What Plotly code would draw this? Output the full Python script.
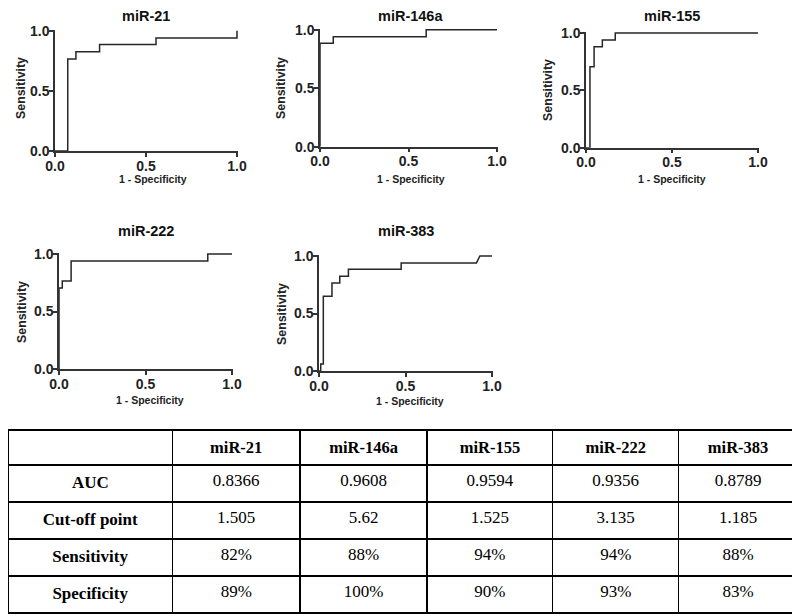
import plotly.graph_objects as go

# the page body has an 8px margin, so the figure starts at (8, 8) in the window
OFF = 8
W, H = 792, 608

# ---------------- data ----------------
markers = ["miR-21", "miR-146a", "miR-155", "miR-222", "miR-383"]

fpr_21 = [0, 0.07, 0.07, 0.115, 0.115, 0.245, 0.245, 0.555, 0.555, 1.0, 1.0]
tpr_21 = [0, 0, 0.765, 0.765, 0.825, 0.825, 0.885, 0.885, 0.94, 0.94, 1.0]

fpr_146a = [0, 0, 0.075, 0.075, 0.6, 0.6, 1.0]
tpr_146a = [0, 0.885, 0.885, 0.94, 0.94, 1.0, 1.0]

fpr_155 = [0, 0.023, 0.023, 0.047, 0.047, 0.095, 0.095, 0.17, 0.17, 1.0]
tpr_155 = [0, 0, 0.705, 0.705, 0.88, 0.88, 0.94, 0.94, 1.0, 1.0]

fpr_222 = [0, 0, 0.019, 0.019, 0.07, 0.07, 0.86, 0.86, 1.0]
tpr_222 = [0, 0.705, 0.705, 0.765, 0.765, 0.94, 0.94, 1.0, 1.0]

fpr_383 = [0, 0.01, 0.01, 0.025, 0.025, 0.075, 0.075, 0.12, 0.12, 0.17, 0.17, 0.475, 0.475, 0.91, 0.93, 1.0]
tpr_383 = [0, 0, 0.06, 0.06, 0.65, 0.65, 0.765, 0.765, 0.825, 0.825, 0.885, 0.885, 0.94, 0.94, 1.0, 1.0]

row_labels = ["AUC", "Cut-off point", "Sensitivity", "Specificity"]
auc = ["0.8366", "0.9608", "0.9594", "0.9356", "0.8789"]
cutoff = ["1.505", "5.62", "1.525", "3.135", "1.185"]
sensitivity = ["82%", "88%", "94%", "94%", "88%"]
specificity = ["89%", "100%", "90%", "93%", "83%"]

tick_vals = [0, 0.5, 1.0]
tick_text = ["0.0", "0.5", "1.0"]

# ---------------- layout geometry (window pixels) ----------------
# (x_left, x_right, y_top(value 1), y_bottom(value 0))
boxes = [
    (55, 237, 30.7, 151),
    (320, 497, 29.7, 146.7),
    (586, 758, 33, 147.7),
    (59, 232, 254, 369),
    (319, 492, 256, 371),
]
title_pos = [(146, 16.3), (410, 16.3), (672, 16.3), (146, 231), (406, 231)]
xtitle_pos = [(153, 179), (411, 179), (672, 179), (150, 400), (410, 401)]
ytitle_pos = [(21, 88), (281, 88), (548, 90), (22, 312), (282, 314)]

curves = [(fpr_21, tpr_21), (fpr_146a, tpr_146a), (fpr_155, tpr_155),
          (fpr_222, tpr_222), (fpr_383, tpr_383)]

fig = go.Figure()

def px_x(p):
    return min(max((p - OFF) / W, 0.0), 1.0)

def px_y(p):
    return min(max(1 - (p - OFF) / H, 0.0), 1.0)

FONT = "Liberation Sans, Arial, sans-serif"
annotations = []
for i, (name, (fx, ty), box) in enumerate(zip(markers, curves, boxes)):
    n = "" if i == 0 else str(i + 1)
    xl, xr, yt, yb = box
    fig.add_trace(go.Scatter(
        x=fx, y=ty, mode="lines",
        line=dict(color="#262626", width=1.5),
        xaxis="x" + n, yaxis="y" + n, showlegend=False, hoverinfo="skip",
    ))
    ext_x = 1.0 / (xr - xl)
    ext_y = 1.0 / (yb - yt)
    common = dict(
        showgrid=False, zeroline=False, automargin=False,
        showline=True, linecolor="#333333", linewidth=1.5,
        ticks="outside", ticklen=4, tickwidth=1.5, tickcolor="#333333",
        tickvals=tick_vals, ticktext=tick_text,
        tickfont=dict(family=FONT, size=14, color="#222222", weight="bold"),
        fixedrange=True,
    )
    fig.layout["xaxis" + n] = dict(
        domain=[px_x(xl), px_x(xr + 1)], range=[0, 1 + ext_x],
        anchor="y" + n, ticklabelstandoff=-3, **common,
    )
    fig.layout["yaxis" + n] = dict(
        domain=[px_y(yb), px_y(yt - 1)], range=[0, 1 + ext_y],
        anchor="x" + n, ticklabelstandoff=-3, **common,
    )
    tx, tyy = title_pos[i]
    annotations.append(dict(
        x=px_x(tx), y=px_y(tyy), xref="paper", yref="paper",
        text="<b>" + name + "</b>", showarrow=False,
        font=dict(family=FONT, size=14.5, color="#111111"),
        xanchor="center", yanchor="middle",
    ))
    ax_, ay_ = xtitle_pos[i]
    annotations.append(dict(
        x=px_x(ax_), y=px_y(ay_), xref="paper", yref="paper",
        text="<b>1 - Specificity</b>", showarrow=False,
        font=dict(family=FONT, size=10.5, color="#222222"),
        xanchor="center", yanchor="middle",
    ))
    bx, by = ytitle_pos[i]
    annotations.append(dict(
        x=px_x(bx), y=px_y(by), xref="paper", yref="paper",
        text="<b>Sensitivity</b>", showarrow=False, textangle=-90,
        font=dict(family=FONT, size=12.4, color="#222222"),
        xanchor="center", yanchor="middle",
    ))

# ---------------- table ----------------
header_vals = [""] + ["<b>" + m + "</b>" for m in markers]
first_col = ["<b>" + r + "</b>" for r in row_labels]
cols = [first_col]
for j in range(len(markers)):
    cols.append([auc[j], cutoff[j], sensitivity[j], specificity[j]])

SERIF = "Liberation Serif, Times New Roman, serif"
fig.add_trace(go.Table(
    domain=dict(x=[px_x(8.5), px_x(798)], y=[px_y(614), px_y(430)]),
    columnwidth=[164, 128, 127, 126, 126, 119],
    header=dict(
        values=header_vals, height=35, align="center",
        fill=dict(color="white"), line=dict(color="black", width=1.3),
        font=dict(family=SERIF, size=16.5, color="black"),
    ),
    cells=dict(
        values=cols, height=37, align="center",
        fill=dict(color="white"), line=dict(color="black", width=1.3),
        font=dict(family=SERIF, size=17, color="black"),
    ),
))

fig.update_layout(
    width=W, height=H,
    margin=dict(l=0, r=0, t=0, b=0, pad=0, autoexpand=False),
    paper_bgcolor="white", plot_bgcolor="white",
    annotations=annotations, showlegend=False,
)

fig.write_html("out.html")
